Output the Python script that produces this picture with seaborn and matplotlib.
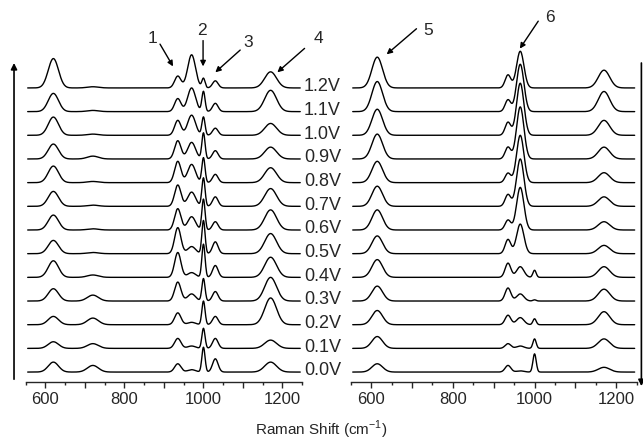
import numpy as np
import pandas as pd
import matplotlib
matplotlib.use("Agg")
import matplotlib.pyplot as plt
import seaborn as sns

# Set style
sns.set_style("ticks")
plt.rcParams['font.family'] = ['Liberation Sans', 'DejaVu Sans']
plt.rcParams['mathtext.fontset'] = 'custom'
plt.rcParams['mathtext.rm'] = 'Liberation Sans'

voltages = ['0.0V', '0.1V', '0.2V', '0.3V', '0.4V', '0.5V', '0.6V',
            '0.7V', '0.8V', '0.9V', '1.0V', '1.1V', '1.2V']

# left panel: band centres (cm-1), widths (sigma) and heights per voltage (0.0V -> 1.2V)
left_centers = [620, 720, 935, 970, 1000, 1030, 1170]
left_widths = [13, 14, 8, 10, 4, 7, 15]
left_h620 = [0.42, 0.28, 0.35, 0.52, 0.70, 0.56, 0.63, 0.63, 0.70, 0.63, 0.77, 0.77, 1.24]
left_h720 = [0.28, 0.20, 0.28, 0.25, 0.10, 0.05, 0.05, 0.05, 0.05, 0.12, 0.05, 0.05, 0.05]
left_h935 = [0.35, 0.42, 0.50, 0.80, 1.05, 1.10, 0.90, 0.90, 0.90, 0.77, 0.63, 0.55, 0.50]
left_h970 = [0.10, 0.10, 0.10, 0.30, 0.20, 0.30, 0.56, 0.60, 0.77, 0.70, 0.85, 1.00, 1.40]
left_h1000 = [1.05, 0.85, 1.00, 0.95, 1.40, 1.40, 1.30, 1.20, 1.05, 1.10, 0.77, 0.85, 0.40]
left_h1030 = [0.56, 0.42, 0.35, 0.40, 0.50, 0.50, 0.35, 0.40, 0.35, 0.35, 0.30, 0.35, 0.30]
left_h1170 = [0.42, 0.35, 1.13, 1.00, 0.85, 0.85, 0.85, 0.75, 0.63, 0.50, 0.50, 0.90, 0.68]

# right panel
right_centers = [615, 935, 965, 1000, 1170]
right_widths = [13, 7, 9, 4, 14]
right_h615 = [0.35, 0.50, 0.60, 0.63, 0.75, 0.75, 0.85, 0.85, 0.90, 1.05, 1.10, 1.27, 1.30]
right_h935 = [0.28, 0.20, 0.40, 0.55, 0.60, 0.60, 0.42, 0.50, 0.40, 0.50, 0.55, 0.50, 0.55]
right_h965 = [0.05, 0.10, 0.30, 0.30, 0.45, 1.25, 1.80, 2.00, 2.00, 2.20, 2.20, 2.00, 1.55]
right_h1000 = [0.77, 0.40, 0.25, 0.05, 0.30, 0.00, 0.00, 0.00, 0.00, 0.00, 0.00, 0.00, 0.00]
right_h1170 = [0.20, 0.40, 0.55, 0.50, 0.45, 0.35, 0.35, 0.40, 0.42, 0.50, 0.63, 0.85, 0.75]

shift = np.arange(555, 1246, 1.0)


def build_spectra(centers, widths, heights):
    frames = []
    for i, v in enumerate(voltages):
        y = np.full_like(shift, float(i))
        for c, w, h in zip(centers, widths, heights):
            y = y + h[i] * np.exp(-0.5 * ((shift - c) / w) ** 2)
        frames.append(pd.DataFrame({'shift': shift, 'intensity': y, 'voltage': v}))
    return pd.concat(frames, ignore_index=True)


left_df = build_spectra(left_centers, left_widths,
                        [left_h620, left_h720, left_h935, left_h970,
                         left_h1000, left_h1030, left_h1170])
right_df = build_spectra(right_centers, right_widths,
                         [right_h615, right_h935, right_h965, right_h1000, right_h1170])

fig = plt.figure(figsize=(6.43, 4.46), dpi=100)
ax_l = fig.add_axes([0.040, 0.1435, 0.430, 0.8117])
ax_r = fig.add_axes([0.5454, 0.1435, 0.4448, 0.8117])

palette = {v: 'black' for v in voltages}
for ax, df in [(ax_l, left_df), (ax_r, right_df)]:
    sns.lineplot(data=df, x='shift', y='intensity', hue='voltage', palette=palette,
                 estimator=None, legend=False, linewidth=1.0, ax=ax)
    ax.set_xlim(550, 1250)
    ax.set_ylim(-0.42, 14.87)
    ax.set_xlabel('')
    ax.set_ylabel('')
    ax.set_yticks([])
    for s in ['top', 'right', 'left']:
        ax.spines[s].set_visible(False)
    ax.spines['bottom'].set_linewidth(1.0)
    ax.set_xticks(range(600, 1201, 100))
    ax.set_xticklabels(['600', '', '800', '', '1000', '', '1200'])
    ax.set_xticks(range(550, 1251, 50), minor=True)
    ax.tick_params(axis='x', which='major', direction='out', length=4, width=1,
                   labelsize=12, pad=3)
    ax.tick_params(axis='x', which='minor', direction='out', length=2.5, width=1)

# voltage labels between the panels
for i, v in enumerate(voltages):
    ax_l.text(1254, i + 0.05, v, ha='left', va='center', fontsize=13, clip_on=False)

# numbered band markers
arrow_kw = dict(arrowstyle='-|>', color='black', lw=1.0, mutation_scale=8,
                shrinkA=0, shrinkB=0)
left_marks = [('1', (872, 14.1), (890, 13.85), (923, 12.91)),
              ('2', (997, 14.43), (999, 14.0), (999, 12.91)),
              ('3', (1113, 13.93), (1093, 13.6), (1030, 12.66)),
              ('4', (1291, 14.1), (1256, 13.67), (1187, 12.66))]
right_marks = [('5', (739, 14.43), (711, 14.5), (638, 13.42)),
               ('6', (1037, 14.97), (1009, 14.82), (964, 13.66))]
for ax, marks in [(ax_l, left_marks), (ax_r, right_marks)]:
    for lab, txt, tail, head in marks:
        ax.text(txt[0], txt[1], lab, ha='center', va='center', fontsize=12.5, clip_on=False)
        ax.annotate('', xy=head, xytext=tail, arrowprops=arrow_kw, annotation_clip=False)

# voltage direction arrows at both sides
fig.add_artist(matplotlib.patches.FancyArrowPatch(
    (0.0218, 0.1435), (0.0218, 0.865), transform=fig.transFigure,
    arrowstyle='-|>', color='black', lw=1.2, mutation_scale=9))
fig.add_artist(matplotlib.patches.FancyArrowPatch(
    (0.9975, 0.865), (0.9975, 0.128), transform=fig.transFigure,
    arrowstyle='-|>', color='black', lw=1.2, mutation_scale=9))

fig.text(0.5, 0.036, 'Raman Shift (cm$^{-1}$)', ha='center', va='center', fontsize=11)

fig.savefig('out.png', dpi=100)
